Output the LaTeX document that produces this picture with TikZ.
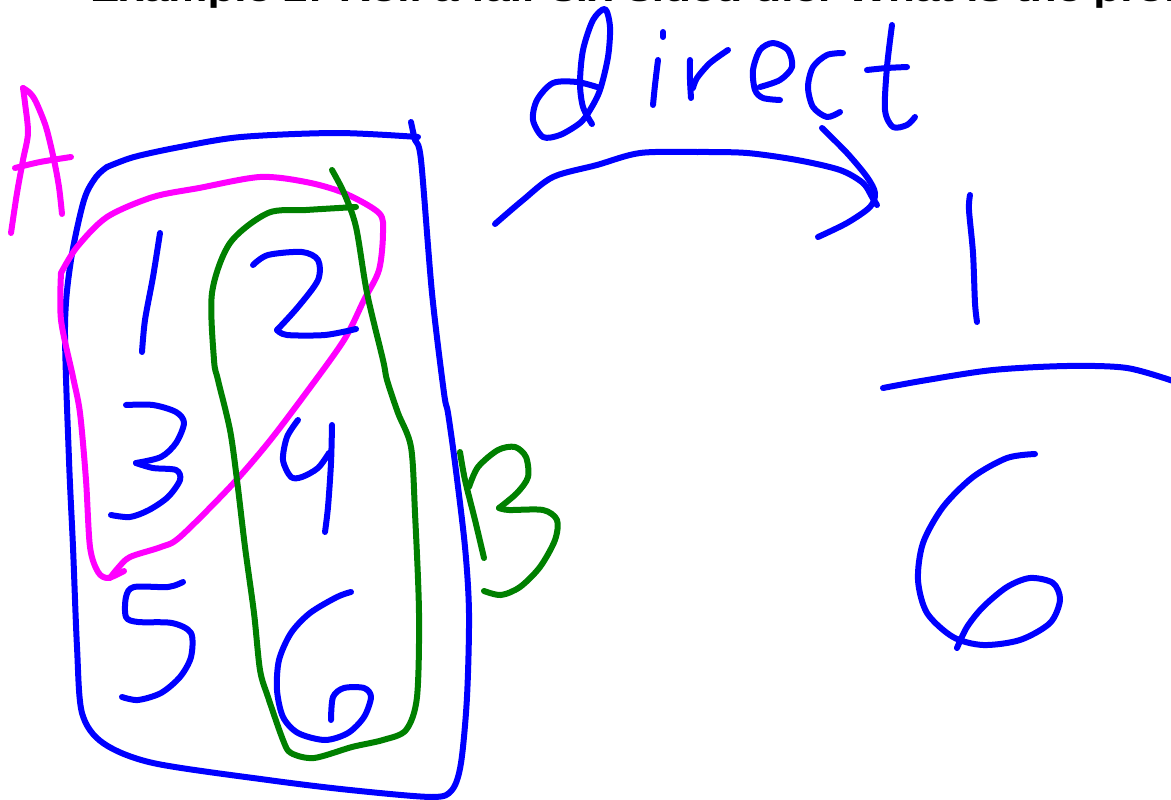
\documentclass[tikz,border=0pt]{standalone}
\usepackage{fontspec}
\usepackage{graphicx}
\newfontfamily\hdrfont{Liberation Sans}
\definecolor{inkblue}{RGB}{0,0,255}
\definecolor{inkmag}{RGB}{255,0,255}
\definecolor{inkgreen}{RGB}{0,128,0}
\tikzset{
  ink/.style={line width=6pt, line cap=round, line join=round},
  bl/.style={ink, draw=inkblue},
  mg/.style={ink, draw=inkmag},
  gr/.style={ink, draw=inkgreen},
}
\begin{document}
\begin{tikzpicture}[x=1pt,y=-1pt]
\useasboundingbox (0,0) rectangle (1171,800);
\clip (0,0) rectangle (1171,800);
\fill[white] (0,0) rectangle (1171,800);
% header (cut off)
\node[anchor=base west, inner sep=0pt, font=\hdrfont\bfseries\fontsize{44}{50}\selectfont] (hdr) at (90,1.2) {\scalebox{1}[0.75]{Example 2: Roll a fair six-sided die. What is the prob}};
% A label
\draw[mg] plot[smooth] coordinates {(11,233) (17,193) (23,160) (28,133) (25,103) (23,88)};
\draw[mg] plot[smooth] coordinates {(23,88) (30,93) (36,102) (46,127) (54,160) (59,187) (62,214)};
\draw[mg] plot[smooth] coordinates {(15,168) (40,162) (71,157)};
% blue box
\draw[bl] plot[smooth] coordinates {(107,167) (134,157) (180,147) (241,137) (337,133) (418,137)};
\draw[bl] plot[smooth] coordinates {(411,122) (415,140) (421,160) (432,293) (444,393) (448,413) (455,463) (465,547) (469,613) (467,697) (461,763) (452,790) (432,797) (350,790) (268,780) (153,763) (103,743) (82,713) (77,647) (73,547) (69,460) (65,327) (71,260) (84,200) (96,177) (107,167)};
% magenta set A
\draw[mg] plot[smooth] coordinates {(61,273) (77,247) (107,217) (153,197) (199,188) (260,177) (306,182) (344,193) (379,213) (383,233) (379,270) (364,300) (344,340) (306,393) (268,443) (230,487) (180,537) (161,547) (130,557) (118,568) (110,578)};
\draw[mg] plot[smooth] coordinates {(61,273) (61,320) (73,377) (80,413) (86,480) (90,547) (98,572) (108,578) (124,571)};
% green set B
\draw[gr] plot[smooth] coordinates {(356,207) (306,210) (268,213) (230,243) (212,293) (214,360) (218,380) (230,430) (237,480) (245,547) (254,613) (260,670) (268,697) (283,740) (291,753) (314,758) (352,747) (383,740) (406,730) (417,697) (419,613) (415,513) (411,447) (398,413) (387,380) (383,360) (367,293) (356,227) (344,193) (332,170)};
% B label
\draw[gr] plot[smooth] coordinates {(460,452) (465,480) (475,520) (484,558)};
\draw[gr] plot[smooth] coordinates {(469,487) (478,467) (498,450) (515,447) (526,457) (528,477) (517,493) (499,508)};
\draw[gr] plot[smooth] coordinates {(499,508) (509,510) (543,510) (557,520) (555,540) (540,567) (520,587) (501,595) (484,591)};
% digits
\draw[bl] plot[smooth] coordinates {(160,233) (153,277) (145,320) (142,352)};
\draw[bl] plot[smooth] coordinates {(253,265) (268,255) (302,252) (318,260) (318,280) (298,307) (277,330)};
\draw[bl] plot[smooth] coordinates {(277,330) (287,335) (325,335) (356,329)};
\draw[bl] plot[smooth] coordinates {(126,405) (153,405) (176,412) (184,423) (176,443) (161,457) (136,463)};
\draw[bl] plot[smooth] coordinates {(136,463) (153,468) (176,470) (180,480) (168,497) (149,510) (130,517) (111,515)};
\draw[bl] plot[smooth] coordinates {(298,420) (287,437) (283,460) (291,477) (302,477) (318,468) (329,453)};
\draw[bl] plot[smooth] coordinates {(332,425) (331,463) (328,507) (325,532)};
\draw[bl] plot[smooth] coordinates {(183,582) (168,587) (134,587) (126,597) (126,617) (138,622) (172,623) (191,633) (191,657) (180,677) (161,693) (138,700) (122,697)};
\draw[bl] plot[smooth] coordinates {(351,592) (337,597) (310,613) (291,633) (279,660) (277,690) (283,717) (298,733) (325,740) (348,733) (364,717) (371,697) (364,688) (344,688) (333,697) (331,720)};
% "direct"
\draw[bl] plot[smooth] coordinates {(597,87) (577,82) (553,83) (537,100) (533,120) (543,137) (560,135) (580,123) (590,110) (600,90) (608,57) (610,27) (605,9) (593,20) (583,50) (580,83) (583,107) (592,124)};
\draw[bl] (663,32) -- (663,37);
\draw[bl] plot[smooth] coordinates {(658,60) (655,85) (653,105)};
\draw[bl] plot[smooth] coordinates {(690,60) (690,80) (691,98)};
\draw[bl] plot[smooth] coordinates {(693,88) (697,78) (710,63) (728,50)};
\draw[bl] plot[smooth] coordinates {(760,87) (780,80) (792,67) (788,50) (773,43) (760,50) (753,70) (755,90) (763,98) (780,100)};
\draw[bl] plot[smooth] coordinates {(843,53) (827,55) (813,67) (808,87) (813,107) (827,117) (840,112)};
\draw[bl] plot[smooth] coordinates {(892,25) (887,67) (885,110) (893,127) (907,125) (915,117)};
\draw[bl] plot[smooth] coordinates {(867,70) (887,68) (907,67)};
% arrow
\draw[bl] plot[smooth] coordinates {(495,224) (523,200) (553,177) (597,165) (640,153) (697,152) (747,153) (797,160) (840,170) (863,183) (872,197) (877,205)};
\draw[bl] plot[smooth] coordinates {(822,128) (847,153) (867,177) (875,193) (870,207) (847,223) (818,237)};
% fraction 1/6
\draw[bl] plot[smooth] coordinates {(970,195) (969,210) (973,253) (975,303) (977,322)};
\draw[bl] plot[smooth] coordinates {(883,388) (927,380) (993,370) (1067,366) (1127,368) (1176,382)};
\draw[bl] plot[smooth] coordinates {(1035,454) (1007,458) (973,477) (943,507) (923,543) (918,580) (927,613) (953,637) (983,645) (1020,640) (1050,623) (1060,600) (1053,583) (1030,578) (1007,587) (983,607) (967,627) (957,648)};
\end{tikzpicture}
\end{document}
